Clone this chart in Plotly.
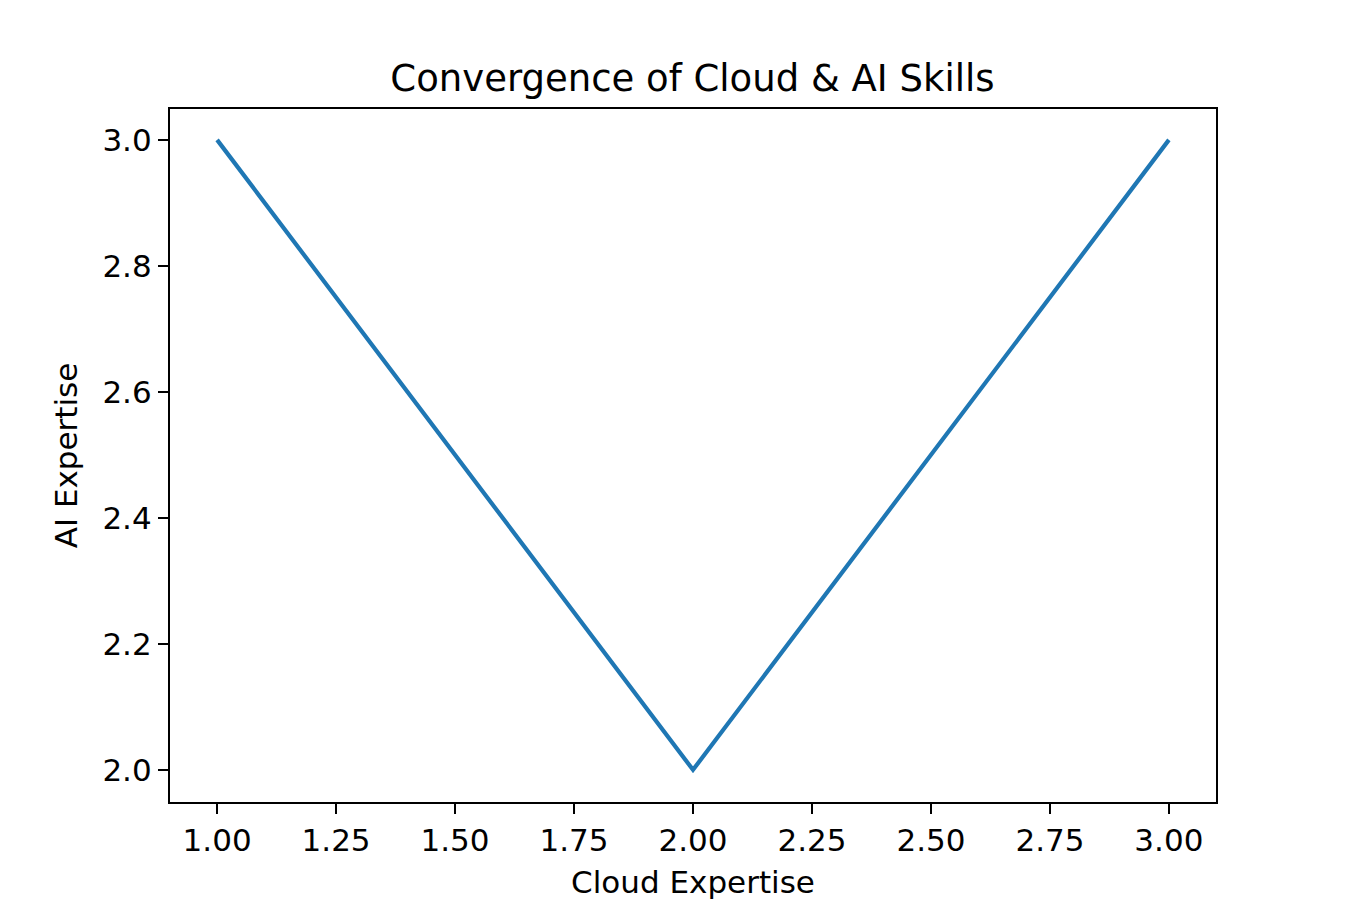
import plotly.graph_objects as go

cloud_expertise = [1, 2, 3]
ai_expertise = [3, 2, 3]

x_ticks = [1.00, 1.25, 1.50, 1.75, 2.00, 2.25, 2.50, 2.75, 3.00]
y_ticks = [2.0, 2.2, 2.4, 2.6, 2.8, 3.0]

fig = go.Figure()
fig.add_trace(go.Scatter(x=cloud_expertise, y=ai_expertise, mode='lines',
                         line=dict(color='#1f77b4', width=4.2)))

axis_style = dict(showline=True, linecolor='black', linewidth=2.2, mirror=True,
                  showgrid=False, zeroline=False, ticks='outside', ticklen=10,
                  tickwidth=2.2, tickcolor='black',
                  tickfont=dict(size=31, color='black'))

fig.update_xaxes(range=[0.901, 3.099], tickvals=x_ticks,
                 ticktext=['%.2f' % v for v in x_ticks],
                 title=dict(text='Cloud Expertise', font=dict(size=31, color='black'), standoff=14),
                 **axis_style)
fig.update_yaxes(range=[1.949, 3.049], tickvals=y_ticks,
                 ticktext=['%.1f' % v for v in y_ticks],
                 title=dict(text='AI Expertise', font=dict(size=31, color='black'), standoff=16),
                 **axis_style)

# page body adds ~8px offset, so margins are shifted to compensate
fig.update_layout(width=1350, height=900, template='none',
                  font=dict(family='DejaVu Sans', color='black'),
                  title=dict(text='Convergence of Cloud & AI Skills', x=0.507, xanchor='center',
                             y=0.922, yanchor='middle', font=dict(size=37, color='black')),
                  margin=dict(l=162, r=142, t=101, b=106),
                  plot_bgcolor='white', paper_bgcolor='white', showlegend=False)

fig.write_html("out.html")
